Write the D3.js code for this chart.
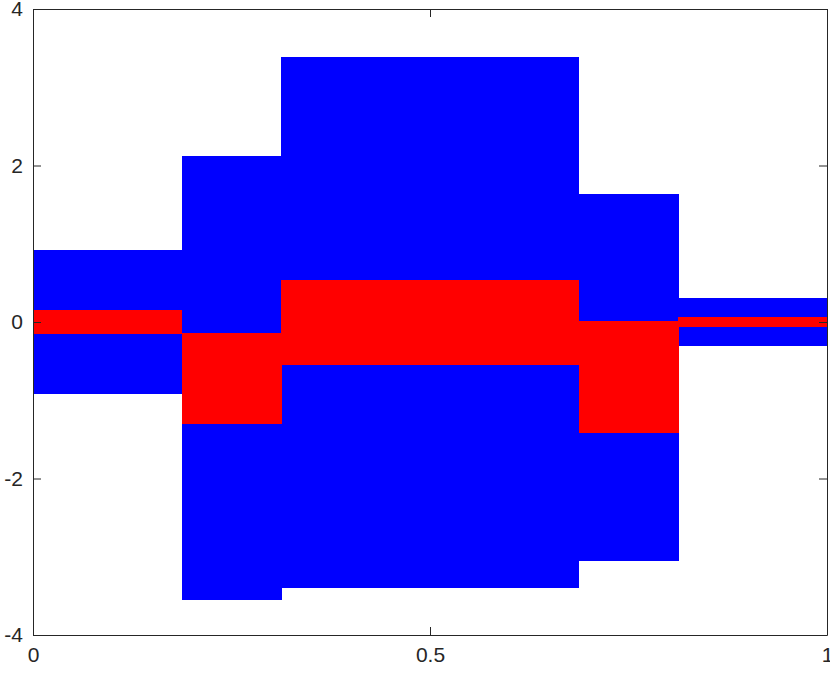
<!DOCTYPE html>
<html>
<head>
<meta charset="utf-8">
<script src="https://cdn.jsdelivr.net/npm/d3@7/dist/d3.min.js"></script>
<style>
  html, body { margin: 0; padding: 0; background: #fff; }
  svg { display: block; }
  text { font-family: "Liberation Sans", Arial, Helvetica, sans-serif; }
</style>
</head>
<body>
<svg id="chart" width="830" height="674"></svg>
<script>
// Segment boundaries (x) and envelope values
const segEdges = [0, 0.1875, 0.3125, 0.6875, 0.8125, 1];
const blueHi = [0.92, 2.12, 3.39, 1.64, 0.31];
const blueLo = [-0.92, -3.55, -3.40, -3.06, -0.31];
const redHi  = [0.15, -0.14, 0.54, 0.01, 0.06];
const redLo  = [-0.15, -1.30, -0.55, -1.42, -0.06];
const xTicks = [0, 0.5, 1];
const xTickLabels = ["0", "0.5", "1"];
const yTicks = [-4, -2, 0, 2, 4];
const yTickLabels = ["-4", "-2", "0", "2", "4"];

const margin = {left: 33, top: 9, right: 3, bottom: 39};
const W = 830, H = 674;
const x = d3.scaleLinear().domain([0, 1]).range([margin.left, W - margin.right]);
const y = d3.scaleLinear().domain([-4, 4]).range([H - margin.bottom, margin.top]);

const svg = d3.select("#chart");
const axisColor = "#262626";

function bands(hi, lo) {
  return hi.map((h, i) => ({x0: segEdges[i], x1: segEdges[i + 1], hi: h, lo: lo[i]}));
}

svg.append("g").attr("shape-rendering", "crispEdges")
  .selectAll("rect").data(bands(blueHi, blueLo)).join("rect")
  .attr("x", d => x(d.x0)).attr("width", d => x(d.x1) - x(d.x0) + 0.5)
  .attr("y", d => y(d.hi)).attr("height", d => y(d.lo) - y(d.hi))
  .attr("fill", "#0000ff");

svg.append("g").attr("shape-rendering", "crispEdges")
  .selectAll("rect").data(bands(redHi, redLo)).join("rect")
  .attr("x", d => x(d.x0)).attr("width", d => x(d.x1) - x(d.x0) + 0.5)
  .attr("y", d => y(d.hi)).attr("height", d => y(d.lo) - y(d.hi))
  .attr("fill", "#ff0000");

const tickLen = 8;
const fmtX = (d, i) => xTickLabels[i];
const fmtY = (d, i) => yTickLabels[i];

const gB = svg.append("g").attr("transform", `translate(0,${y(-4)})`)
  .call(d3.axisBottom(x).tickValues(xTicks).tickFormat(fmtX).tickSizeInner(-tickLen).tickSizeOuter(0).tickPadding(12));
const gT = svg.append("g").attr("transform", `translate(0,${y(4)})`)
  .call(d3.axisTop(x).tickValues(xTicks).tickFormat("").tickSizeInner(-tickLen).tickSizeOuter(0));
const gL = svg.append("g").attr("transform", `translate(${x(0)},0)`)
  .call(d3.axisLeft(y).tickValues(yTicks).tickFormat(fmtY).tickSizeInner(-tickLen).tickSizeOuter(0).tickPadding(10));
const gR = svg.append("g").attr("transform", `translate(${x(1)},0)`)
  .call(d3.axisRight(y).tickValues(yTicks).tickFormat("").tickSizeInner(-tickLen).tickSizeOuter(0));

[gB, gT, gL, gR].forEach(g => {
  g.select(".domain").attr("stroke", axisColor).attr("stroke-width", 1);
  g.selectAll(".tick line").attr("stroke", axisColor).attr("stroke-width", 1);
  g.selectAll(".tick text").attr("fill", axisColor).style("font-size", "21px");
});
</script>
</body>
</html>
